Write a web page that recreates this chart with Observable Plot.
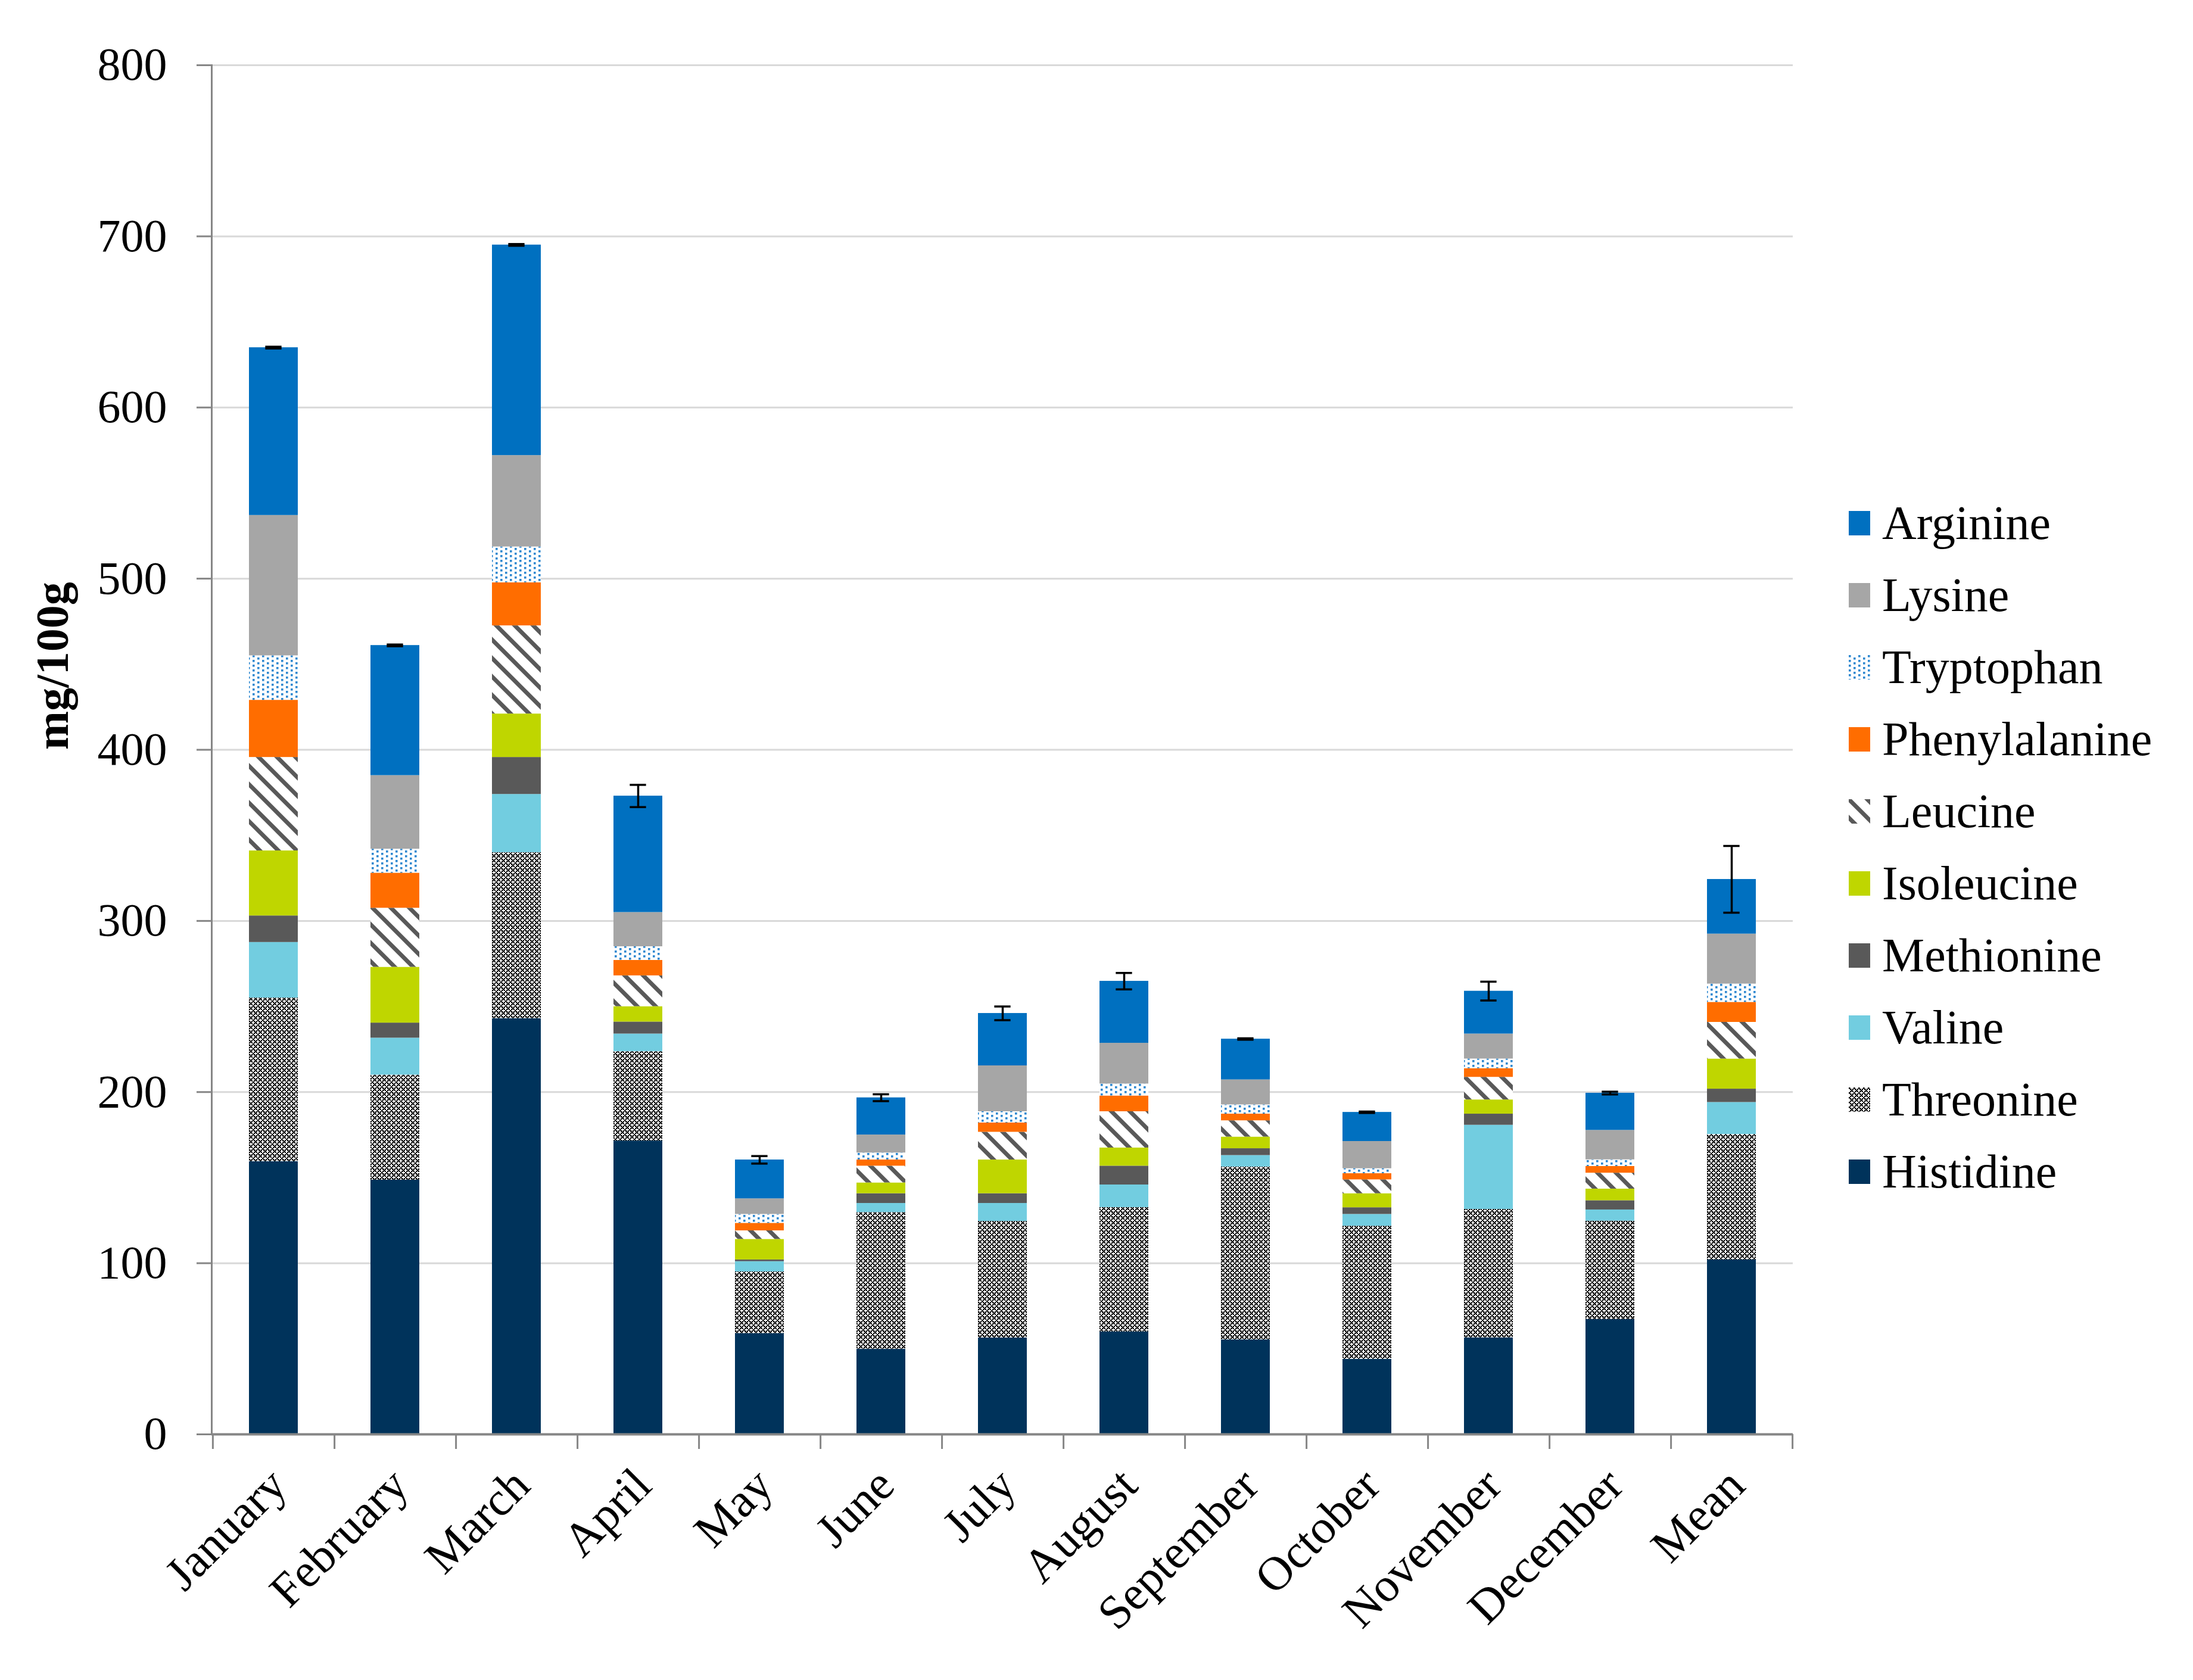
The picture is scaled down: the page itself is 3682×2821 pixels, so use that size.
<!DOCTYPE html>
<html>
<head>
<meta charset="utf-8">
<script src="https://cdn.jsdelivr.net/npm/d3@7"></script>
<script src="https://cdn.jsdelivr.net/npm/@observablehq/plot@0.6"></script>
<style>
  body { margin: 0; background: white; }
  #wrap { position: relative; width: 3682px; height: 2821px; font-family: "Liberation Serif", "Times New Roman", serif; }
  #legend { position: absolute; left: 3104px; top: 818px; }
  .item { display: flex; align-items: center; height: 121px; font-size: 80px; color: black; }
  .item svg { margin-right: 20px; }
</style>
</head>
<body>
<!-- fill patterns, shared by the bars and the legend -->
<svg width="0" height="0" style="position:absolute">
  <defs>
    <pattern id="pThr" width="8" height="8" patternUnits="userSpaceOnUse">
      <rect width="8" height="8" fill="white"/>
      <rect x="0" y="0" width="2.6" height="2.6" fill="black"/>
      <rect x="2" y="2" width="2.6" height="2.6" fill="black"/>
      <rect x="4" y="4" width="2.6" height="2.6" fill="black"/>
      <rect x="6" y="6" width="2.6" height="2.6" fill="black"/>
      <rect x="6" y="2" width="2.6" height="2.6" fill="black"/>
      <rect x="2" y="6" width="2.6" height="2.6" fill="black"/>
    </pattern>
    <pattern id="pLeu" width="31" height="31" patternUnits="userSpaceOnUse">
      <rect width="31" height="31" fill="white"/>
      <path d="M-8,-8L39,39M-8,23L8,39M23,-8L39,8" stroke="#595959" stroke-width="7"/>
    </pattern>
    <pattern id="pTrp" width="16" height="8" patternUnits="userSpaceOnUse">
      <rect width="16" height="8" fill="white"/>
      <rect x="0" y="0" width="3.6" height="3.6" fill="#2E88D0"/>
      <rect x="8" y="4" width="3.6" height="3.6" fill="#2E88D0"/>
    </pattern>
  </defs>
</svg>
<div id="wrap">
  <div id="chart"></div>
  <div id="legend"></div>
</div>
<script>
const months = ["January", "February", "March", "April", "May", "June", "July",
  "August", "September", "October", "November", "December", "Mean"];
const acids = ["Histidine", "Threonine", "Valine", "Methionine", "Isoleucine",
  "Leucine", "Phenylalanine", "Tryptophan", "Lysine", "Arginine"];

// mg/100g, one value per month (last = mean)
const histidine     = [159.4, 148.6, 243, 171.5, 59, 49.8, 56.4, 60, 55.3, 44, 56.5, 67.2, 102];
const threonine     = [95.6, 61.4, 97, 52.2, 36, 79.9, 68.1, 72.6, 101, 77.7, 75, 57.5, 73.3];
const valine        = [32.5, 21.6, 34, 10.3, 6, 5.3, 10.5, 13.2, 6.7, 6.9, 49.2, 6.5, 18.7];
const methionine    = [15.5, 8.8, 21.6, 7, 1, 5.7, 5.7, 11, 4, 3.9, 6.5, 5.4, 7.8];
const isoleucine    = [38, 32.6, 25.4, 9, 12, 6.3, 19.7, 10.6, 6.8, 8.2, 8.3, 6.8, 17.6];
const leucine       = [54.6, 34.5, 51.5, 18, 5, 9.8, 16.2, 21.2, 9.5, 8.1, 13.2, 9.3, 21.4];
const phenylalanine = [33.4, 20.5, 25.2, 9, 4.4, 3.6, 5.4, 9.2, 3.9, 3.6, 5.1, 3.9, 11.7];
const tryptophan    = [26, 14, 20.9, 8, 5.2, 4.1, 6.6, 7, 5.4, 2.9, 5.6, 3.9, 10.7];
const lysine        = [82, 43, 53.4, 20, 9.1, 10.5, 26.8, 23.8, 14.6, 15.9, 14.6, 17.2, 29.2];
const arginine      = [98, 76, 123, 68, 22.7, 21.7, 30.6, 36.2, 23.8, 17, 25, 21.7, 31.9];
// error on the total of each bar
const errors        = [0.5, 0.5, 0.5, 6.5, 2.2, 2, 4, 4.8, 0.4, 0.4, 5.5, 0.8, 19.5];

const series = [histidine, threonine, valine, methionine, isoleucine,
  leucine, phenylalanine, tryptophan, lysine, arginine];
const fills = ["#00335B", "url(#pThr)", "#72CDE0", "#595959", "#BFD600",
  "url(#pLeu)", "#FF6D00", "url(#pTrp)", "#A6A6A6", "#0070C0"];

const rows = months.flatMap((m, i) => acids.map((a, j) => ({month: m, acid: a, value: series[j][i]})));
const totals = months.map((m, i) => ({
  month: m,
  total: d3.sum(series, s => s[i]),
  err: errors[i]
}));

const W = 3682, H = 2821, ML = 355, MR = 672, MT = 109, MB = 413;
const step = (W - ML - MR) / months.length;
const barW = step * 0.4;
const capW = 27;

const chart = Plot.plot({
  width: W,
  height: H,
  marginLeft: ML,
  marginRight: MR,
  marginTop: MT,
  marginBottom: MB,
  style: {fontFamily: "'Liberation Serif', 'Times New Roman', serif", background: "white", color: "black"},
  x: {domain: months, paddingInner: 0.6, paddingOuter: 0.3, axis: null},
  y: {domain: [0, 800], axis: null},
  color: {type: "ordinal", domain: acids, range: fills},
  marks: [
    Plot.gridY(d3.range(100, 801, 100), {stroke: "#D9D9D9", strokeOpacity: 1, strokeWidth: 3}),
    Plot.axisY(d3.range(0, 801, 100), {tickSize: 25, tickPadding: 50, fontSize: 78,
      stroke: "#868686", strokeWidth: 3, label: null, tickFormat: d => String(d)}),
    Plot.barY(rows, {x: "month", y: "value", fill: "acid"}),
    Plot.ruleX(totals, {x: "month", y1: d => d.total - d.err, y2: d => d.total + d.err,
      stroke: "black", strokeWidth: 3.5}),
    Plot.tickY(totals, {x: "month", y: d => d.total - d.err, stroke: "black", strokeWidth: 3.5,
      insetLeft: (barW - capW) / 2, insetRight: (barW - capW) / 2}),
    Plot.tickY(totals, {x: "month", y: d => d.total + d.err, stroke: "black", strokeWidth: 3.5,
      insetLeft: (barW - capW) / 2, insetRight: (barW - capW) / 2}),
    Plot.frame({anchor: "left", stroke: "#868686", strokeWidth: 3}),
    Plot.ruleY([0], {stroke: "#868686", strokeWidth: 4}),
    // category separators under the axis
    Plot.ruleX(months, {x: d => d, dx: step / 2, y1: 0, y2: 0, insetBottom: -25, stroke: "#868686", strokeWidth: 3}),
    Plot.ruleX(months.slice(0, 1), {x: d => d, dx: -step / 2, y1: 0, y2: 0, insetBottom: -25, stroke: "#868686", strokeWidth: 3}),
    Plot.text(months, {x: d => d, frameAnchor: "bottom", rotate: -45, textAnchor: "end",
      lineAnchor: "middle", dx: 8, dy: 72, fontSize: 80}),
    Plot.text(["mg/100g"], {frameAnchor: "left", rotate: -90, dx: -266, fontWeight: "bold", fontSize: 78})
  ]
});
document.querySelector("#chart").append(chart);

// legend, top item = top of the stack
const legend = d3.select("#legend");
acids.slice().reverse().forEach(a => {
  const item = legend.append("div").attr("class", "item");
  item.append("svg").attr("width", 36).attr("height", 41)
    .append("rect").attr("width", 36).attr("height", 41).attr("fill", fills[acids.indexOf(a)]);
  item.append("span").text(a);
});
</script>
</body>
</html>
